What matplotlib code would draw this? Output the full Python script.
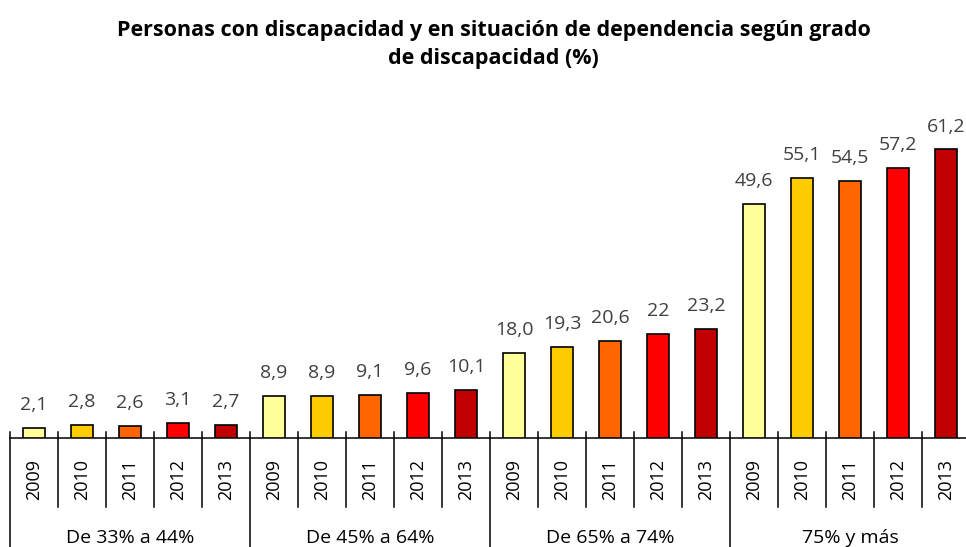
# -------------------- Modules --------------------
import matplotlib
matplotlib.use("Agg")
from matplotlib import pyplot as plt


# -------------------- Data --------------------
groups = ["De 33% a 44%", "De 45% a 64%", "De 65% a 74%", "75% y más"]
years = ["2009", "2010", "2011", "2012", "2013"]
v_33_44 = [2.1, 2.8, 2.6, 3.1, 2.7]
v_45_64 = [8.9, 8.9, 9.1, 9.6, 10.1]
v_65_74 = [18.0, 19.3, 20.6, 22.0, 23.2]
v_75_mas = [49.6, 55.1, 54.5, 57.2, 61.2]
labels_33_44 = ["2,1", "2,8", "2,6", "3,1", "2,7"]
labels_45_64 = ["8,9", "8,9", "9,1", "9,6", "10,1"]
labels_65_74 = ["18,0", "19,3", "20,6", "22", "23,2"]
labels_75_mas = ["49,6", "55,1", "54,5", "57,2", "61,2"]

title = "Personas con discapacidad y en situación de dependencia según grado\nde discapacidad (%)"
year_colors = ["#FFFF99", "#FFCC00", "#FF6600", "#FF0000", "#C00000"]


# -------------------- Plot --------------------
def main():
    plt.rcParams["font.family"] = ["Open Sans", "DejaVu Sans"]
    fig = plt.figure(figsize=(9.66, 5.47), dpi=100)
    ax = fig.add_axes([10 / 966, 1 - 438 / 547, 960 / 966, 330 / 547])

    series = [v_33_44, v_45_64, v_65_74, v_75_mas]
    texts = [labels_33_44, labels_45_64, labels_65_74, labels_75_mas]
    n = len(years)
    for g, (vals, labs) in enumerate(zip(series, texts)):
        xs = [g * n + i for i in range(n)]
        bars = ax.bar(xs, vals, width=0.44, color=year_colors,
                      edgecolor="black", linewidth=1.2, zorder=3)
        for b, lab in zip(bars, labs):
            ax.annotate(lab, (b.get_x() + b.get_width() / 2, b.get_height()),
                        xytext=(0, 10), textcoords="offset points",
                        ha="center", va="bottom", fontsize=14,
                        color="#404040", annotation_clip=False)

    total = n * len(groups)
    ax.set_xlim(-0.5, total - 0.5)
    ax.set_ylim(0, 70)
    ax.axis("off")

    # category axis drawn by hand
    lw = 1.1
    ax.plot([-0.5, total - 0.5], [0, 0], color="black", lw=lw, clip_on=False)
    for k in range(total + 1):
        x = k - 0.5
        bottom = -27 if k % n == 0 else -14.7
        ax.plot([x, x], [1.3, bottom], color="black", lw=lw, clip_on=False)
    for g, name in enumerate(groups):
        for i, yr in enumerate(years):
            ax.text(g * n + i, -8.9, yr, rotation=90, ha="center",
                    va="center", fontsize=13, color="black")
        ax.text(g * n + (n - 1) / 2, -21.2, name, ha="center", va="center",
                fontsize=14, color="black")

    fig.text(0.511, 0.918, title, ha="center", va="center", fontsize=15.5,
             fontweight="bold", linespacing=1.45)

    fig.savefig("out.png", dpi=100)


if __name__ == "__main__":
    main()
